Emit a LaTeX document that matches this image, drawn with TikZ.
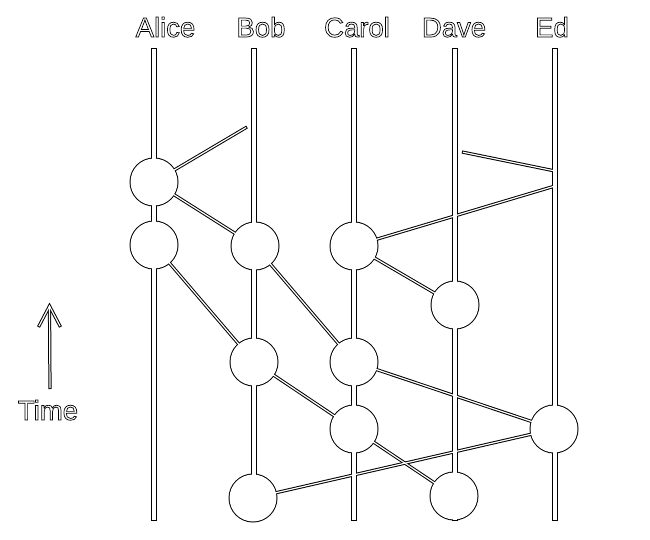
\documentclass[tikz,border=0pt]{standalone}
\usepackage{fontspec}
\setmainfont{Liberation Sans}

% one layer of the whole sketch: colour, lifeline width, message width, radius, shortening
\newcommand\sketchlayer[5]{%
  \foreach \p in {alice,bob,carol,dave,ed}
    \draw[#1,line width=#2,shorten <=#5,shorten >=#5] (\p-top) -- (\p-bot);
  \foreach \s/\t in {bobfree/a1, a1/b1, a2/b2, b1/c2, davefree/edin, edout/c1,
                     c1/d1, c2/e1, b2/c3, c3/d2, e1/b3}
    \draw[#1,line width=#3,shorten <=#5] (\s) -- (\t);
  \foreach \e in {a1,a2,b1,c1,d1,b2,c2,c3,e1,b3,d2}
    \fill[#1] (\e) circle (#4);
  \draw[#1,line width=#3,shorten <=#5] (timelow) -- (timehigh);
  \draw[#1,line width=#3,shorten <=#5,shorten >=#5,line join=miter]
    (timeleft) -- (timehigh) -- (timeright);
}

% hollow text: glyphs stroked, not filled
\newcommand\hollow[1]{\special{pdf:literal direct 1 Tr 0.7 w}#1\special{pdf:literal direct 0 Tr}}

\begin{document}
\begin{tikzpicture}[x=1pt,y=-1pt,
  lbl/.style={anchor=base,inner sep=0pt,font=\fontsize{27.5}{32}\selectfont}]
\useasboundingbox (0,0) rectangle (650,540);

% lifelines
\coordinate (alice-top) at (154,48); \coordinate (alice-bot) at (154,521);
\coordinate (bob-top)   at (254,48); \coordinate (bob-bot)   at (254,521);
\coordinate (carol-top) at (354,48); \coordinate (carol-bot) at (354,521);
\coordinate (dave-top)  at (455,48); \coordinate (dave-bot)  at (455,521);
\coordinate (ed-top)    at (555,48); \coordinate (ed-bot)    at (555,521);

% events
\coordinate (a1) at (154,182);
\coordinate (a2) at (154,245);
\coordinate (b1) at (255,246);
\coordinate (c1) at (354,246);
\coordinate (d1) at (455,305);
\coordinate (b2) at (254,362);
\coordinate (c2) at (354,362);
\coordinate (c3) at (354,429);
\coordinate (e1) at (554,429);
\coordinate (b3) at (253,498);
\coordinate (d2) at (454,496);

% loose message ends
\coordinate (bobfree)  at (247,127);
\coordinate (davefree) at (462,152);
\coordinate (edin)     at (555,171);
\coordinate (edout)    at (555,186);

% time arrow
\coordinate (timelow)   at (50,389);
\coordinate (timehigh)  at (49.5,306);
\coordinate (timeleft)  at (38.5,327);
\coordinate (timeright) at (60.5,327);

\sketchlayer{black}{5.5}{3.2}{24.5}{0pt}
\sketchlayer{white}{3.5}{1.2}{23.5}{1pt}

\node[lbl] (alice label) at (165.5,37) {\hollow{Alice}};
\node[lbl] (bob label)   at (261,37)   {\hollow{Bob}};
\node[lbl] (carol label) at (357,37)   {\hollow{Carol}};
\node[lbl] (dave label)  at (454,37)   {\hollow{Dave}};
\node[lbl] (ed label)    at (552,37)   {\hollow{Ed}};
\node[lbl] (time label)  at (48,420)   {\hollow{Time}};
\end{tikzpicture}
\end{document}
